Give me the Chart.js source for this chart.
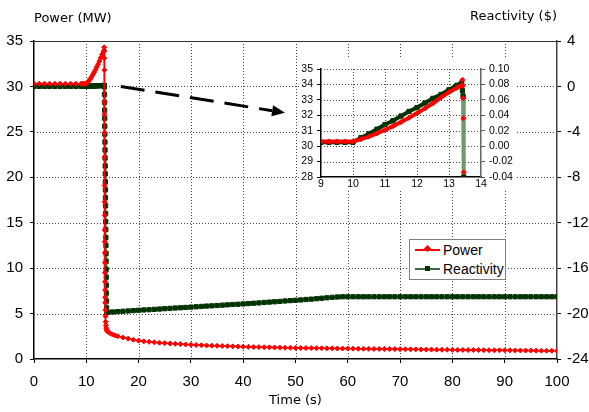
<!DOCTYPE html>
<html>
<head>
<meta charset="utf-8">
<script src="https://cdn.jsdelivr.net/npm/chart.js@4/dist/chart.umd.min.js"></script>
<style>
  html, body { margin:0; padding:0; background:#fff; }
  #wrap { position:relative; width:589px; height:412px; overflow:hidden; }
  #main { position:absolute; left:0; top:0; }
  #inset { position:absolute; left:299px; top:57px; background:#fff; }
  #legend { position:absolute; left:409px; top:239px; width:97px; height:41px; box-sizing:border-box;
            border:1px solid #808080; background:#fff; font:14px "Liberation Sans", Arial, sans-serif; color:#000; }
  #legend .row { height:19.5px; display:flex; align-items:center; white-space:nowrap; }
  #legend .sw { position:relative; display:inline-block; width:25px; height:0; border-top:2px solid; margin-left:5px; margin-right:3px; }
  #legend .mk { position:absolute; }
  #legend .mk.rectRot { width:5px; height:5px; left:10px; top:-4.5px; transform:rotate(45deg); }
  #legend .mk.rect { width:5px; height:5px; left:10px; top:-4.5px; }
</style>
</head>
<body>
<div id="wrap">
  <canvas id="main" width="589" height="412"></canvas>
  <canvas id="inset" width="218" height="134"></canvas>
  <div id="legend"></div>
</div>
<script>
// ---------------- data ----------------
const powerTime = [0,1,2,3,4,5,6,7,8,9,9.25,9.5,9.75,10,10.25,10.5,10.75,11,11.25,11.5,11.75,12,12.25,12.5,12.75,13,13.25,13.4,
  13.42,13.43,13.44,13.45,13.46,13.47,13.48,13.49,13.5,13.51,13.52,13.53,13.54,13.55,13.56,13.57,13.58,13.59,13.6,13.62,13.64,13.67,13.7,13.75,13.8,13.9,
  14,14.5,15,15.5,16,17,18,19,20,
  21,22,23,24,25,26,27,28,29,30,31,32,33,34,35,36,37,38,39,40,
  41,42,43,44,45,46,47,48,49,50,51,52,53,54,55,56,57,58,59,60,
  61,62,63,64,65,66,67,68,69,70,71,72,73,74,75,76,77,78,79,80,
  81,82,83,84,85,86,87,88,89,90,91,92,93,94,95,96,97,98,99,100];
const powerMW = [30.3,30.3,30.3,30.3,30.3,30.3,30.3,30.3,30.3,30.3,30.3,30.3,30.3,30.3,
  30.45,30.62,30.83,31.05,31.3,31.56,31.84,32.13,32.45,32.78,33.15,33.5,33.78,33.95,
  34.3,33.9,33.1,31.8,28.3,26.9,24.9,22.2,19.1,17.3,15.8,14.2,12.9,11.7,10.6,9.5,8.5,7.6,6.8,6.2,5.4,4.7,4.1,3.7,3.4,3.2,
  3.05,2.85,2.7,2.6,2.5,2.36,2.24,2.12,2.02,
  1.94,1.89,1.84,1.79,1.75,1.71,1.67,1.64,1.60,1.57,1.54,1.52,1.49,1.47,1.45,1.43,1.41,1.39,1.37,1.36,
  1.34,1.32,1.31,1.29,1.28,1.27,1.26,1.24,1.23,1.22,1.21,1.20,1.20,1.19,1.18,1.17,1.17,1.16,1.15,1.15,
  1.14,1.13,1.13,1.12,1.11,1.11,1.10,1.09,1.09,1.08,1.07,1.06,1.06,1.05,1.04,1.04,1.03,1.02,1.02,1.01,
  1.00,1.00,0.99,0.99,0.98,0.97,0.97,0.96,0.96,0.95,0.95,0.94,0.94,0.93,0.93,0.92,0.92,0.91,0.91,0.90];

const reactTime = [0,1,2,3,4,5,6,7,8,9,9.25,9.5,9.75,10,10.25,10.5,10.75,11,11.25,11.5,11.75,12,12.25,12.5,12.75,13,13.25,13.4,
  13.42,13.44,
  13.46,13.475,13.49,13.505,13.52,13.535,13.55,13.565,13.58,13.595,13.61,13.625,13.64,13.655,13.67,13.685,13.7,13.715,13.73,13.745,
  13.76,13.775,13.79,13.805,13.82,13.835,13.85,13.865,13.88,13.9,
  14,15,16,17,18,19,20,21,22,23,24,25,26,27,28,29,30,31,32,33,34,35,36,37,38,39,40,
  41,42,43,44,45,46,47,48,49,50,51,52,53,54,55,56,57,58,59,60,
  61,62,63,64,65,66,67,68,69,70,71,72,73,74,75,76,77,78,79,80,
  81,82,83,84,85,86,87,88,89,90,91,92,93,94,95,96,97,98,99,100];
const reactDollar = [0.005,0.005,0.005,0.005,0.005,0.005,0.005,0.005,0.005,0.005,0.005,0.005,0.005,0.005,
  0.011,0.016,0.022,0.028,0.033,0.039,0.045,0.050,0.056,0.062,0.067,0.073,0.079,0.082,
  0.072,0.065,
  -0.04,-0.7,-1.4,-2.1,-2.8,-3.5,-4.2,-4.9,-5.6,-6.3,-7.0,-7.7,-8.4,-9.1,-9.8,-10.5,-11.2,-11.9,-12.6,-13.3,
  -14.0,-14.7,-15.4,-16.1,-16.8,-17.5,-18.2,-18.9,-19.5,-19.9,
  -19.88,-19.86,-19.83,-19.80,-19.77,-19.74,-19.71,-19.68,-19.66,-19.63,-19.60,-19.57,-19.54,-19.51,-19.49,-19.46,-19.43,
  -19.40,-19.37,-19.34,-19.32,-19.29,-19.26,-19.23,-19.20,-19.18,-19.15,
  -19.12,-19.09,-19.06,-19.02,-18.99,-18.96,-18.93,-18.89,-18.86,-18.83,-18.80,-18.76,-18.73,-18.69,-18.65,-18.61,-18.57,-18.54,-18.52,-18.52,
  -18.52,-18.52,-18.52,-18.52,-18.52,-18.52,-18.52,-18.52,-18.52,-18.52,-18.52,-18.52,-18.52,-18.52,-18.52,-18.52,-18.52,-18.52,-18.52,-18.52,
  -18.52,-18.52,-18.52,-18.52,-18.52,-18.52,-18.52,-18.52,-18.52,-18.52,-18.52,-18.52,-18.52,-18.52,-18.52,-18.52,-18.52,-18.52,-18.52,-18.52];

const seriesNames = ['Power', 'Reactivity'];
const axisTitles = { power:'Power (MW)', react:'Reactivity ($)', time:'Time (s)' };

// ---------------- helpers ----------------
const pts = (xs, ys) => xs.map((x, i) => ({x, y: ys[i]}));
const tickFont = {family:'"Liberation Sans", Arial, sans-serif', size:15};
const titleFont = {family:'"DejaVu Sans", Verdana, sans-serif', size:13};
const insetFont = {family:'"Liberation Sans", Arial, sans-serif', size:10.5};
const RED = '#ff0000', GREEN_LINE = '#3a6b3a', GREEN_MK = '#003300';

// dotted grid lines placed at each scale tick (library scales give the pixels)
const dottedGrid = {
  id:'dottedGrid',
  beforeDatasetsDraw(chart, args, opts) {
    const {ctx, chartArea:a} = chart;
    ctx.save();
    ctx.strokeStyle = opts.color || '#444';
    ctx.lineWidth = 1;
    ctx.setLineDash(opts.dash || [1, 2]);
    (opts.axes || []).forEach(id => {
      const s = chart.scales[id];
      s.ticks.forEach(t => {
        const v = s.getPixelForValue(t.value);
        const p = Math.round(v) + 0.5;
        ctx.beginPath();
        if (s.isHorizontal()) {
          if (Math.abs(v - a.left) < 1.5 || Math.abs(v - a.right) < 1.5) return;
          ctx.moveTo(p, a.top); ctx.lineTo(p, a.bottom);
        } else {
          if (Math.abs(v - a.bottom) < 1.5 || (opts.skipTop && Math.abs(v - a.top) < 1.5)) return;
          ctx.moveTo(a.left, p); ctx.lineTo(a.right, p);
        }
        ctx.stroke();
      });
    });
    ctx.restore();
  }
};

const htmlLegend = {
  id:'htmlLegend',
  afterUpdate(chart) {
    const box = document.getElementById('legend');
    box.innerHTML = '';
    chart.data.datasets.forEach(ds => {
      const row = document.createElement('div'); row.className = 'row';
      const sw = document.createElement('span'); sw.className = 'sw';
      sw.style.borderTopColor = ds.borderColor;
      const mk = document.createElement('span'); mk.className = 'mk ' + ds.pointStyle;
      mk.style.background = ds.pointBackgroundColor;
      sw.appendChild(mk);
      const tx = document.createElement('span'); tx.textContent = ds.label;
      row.appendChild(sw); row.appendChild(tx);
      box.appendChild(row);
    });
  }
};

const arrowPlugin = {
  id:'arrow',
  afterDatasetsDraw(chart, args, opts) {
    const {ctx, scales} = chart;
    const x1 = scales.x.getPixelForValue(opts.from.x), y1 = scales.y.getPixelForValue(opts.from.y);
    const x2 = scales.x.getPixelForValue(opts.to.x), y2 = scales.y.getPixelForValue(opts.to.y);
    const a = Math.atan2(y2 - y1, x2 - x1);
    const head = 13, hw = 5.5;
    const bx = x2 - head * Math.cos(a), by = y2 - head * Math.sin(a);
    ctx.save();
    ctx.strokeStyle = '#000'; ctx.fillStyle = '#000'; ctx.lineWidth = 3;
    ctx.setLineDash([24, 11]);
    ctx.beginPath(); ctx.moveTo(x1, y1); ctx.lineTo(bx, by); ctx.stroke();
    ctx.setLineDash([]);
    ctx.beginPath();
    ctx.moveTo(x2, y2);
    ctx.lineTo(bx - hw * Math.sin(a), by + hw * Math.cos(a));
    ctx.lineTo(bx + hw * Math.sin(a), by - hw * Math.cos(a));
    ctx.closePath(); ctx.fill();
    ctx.restore();
  }
};

const axisGrid = { drawOnChartArea:false, tickColor:'#000', tickLength:4 };

// ---------------- main chart ----------------
new Chart(document.getElementById('main'), {
  type:'line',
  data:{ datasets:[
    { label:seriesNames[0], data:pts(powerTime, powerMW), yAxisID:'y',
      borderColor:RED, backgroundColor:RED, borderWidth:1.5, tension:0,
      pointStyle:'rectRot', pointRadius:2.5, pointBorderWidth:1,
      pointBackgroundColor:RED, pointBorderColor:RED },
    { label:seriesNames[1], data:pts(reactTime, reactDollar), yAxisID:'y2',
      borderColor:GREEN_LINE, backgroundColor:GREEN_MK, borderWidth:2, tension:0,
      pointStyle:'rect', pointRadius:3, pointBorderWidth:1,
      pointBackgroundColor:GREEN_MK, pointBorderColor:GREEN_MK }
  ]},
  options:{
    responsive:false, animation:false, devicePixelRatio:1,
    layout:{ padding:0 },
    plugins:{ legend:{display:false}, tooltip:{enabled:false},
      dottedGrid:{ axes:['x','y'], color:'#444', dash:[1,2], skipTop:true },
      arrow:{ from:{x:16.6, y:30.0}, to:{x:48.0, y:27.1} } },
    scales:{
      x:{ type:'linear', position:'bottom', min:0, max:100,
          ticks:{ stepSize:10, color:'#000', font:tickFont, padding:10, maxRotation:0, autoSkip:false },
          grid:axisGrid,
          border:{ color:'#000', width:1.5 },
          title:{ display:true, text:axisTitles.time, color:'#000', font:titleFont, padding:{top:0, bottom:4} },
          afterFit(s){ s.height = 53; } },
      y:{ type:'linear', position:'left', min:0, max:35,
          ticks:{ stepSize:5, color:'#000', font:tickFont, padding:7, autoSkip:false },
          grid:axisGrid,
          border:{ color:'#000', width:1.5 },
          afterFit(s){ s.width = 34; } },
      y2:{ type:'linear', position:'right', min:-24, max:4,
          ticks:{ stepSize:4, color:'#000', font:tickFont, padding:6, autoSkip:false },
          grid:axisGrid,
          border:{ color:'#444', width:1.5 },
          afterFit(s){ s.width = 32; } },
      tP:{ type:'linear', position:'top', weight:0, min:0, max:1,
          ticks:{ display:false }, grid:{ display:false, drawTicks:false },
          border:{ display:true, color:'#333', width:1 },
          title:{ display:true, text:axisTitles.power, align:'start', color:'#000', font:titleFont, padding:{top:11, bottom:0} },
          afterFit(s){ s.height = 41; } },
      tR:{ type:'linear', position:'top', weight:1, min:0, max:1,
          ticks:{ display:false }, grid:{ display:false, drawTicks:false },
          border:{ display:false },
          title:{ display:true, text:axisTitles.react, align:'end', color:'#000', font:titleFont, padding:{top:9, bottom:0} },
          afterFit(s){ s.height = 0; } }
    }
  },
  plugins:[dottedGrid, htmlLegend, arrowPlugin]
});

// ---------------- inset chart (same data, zoomed) ----------------
new Chart(document.getElementById('inset'), {
  type:'line',
  data:{ datasets:[
    { label:seriesNames[0], data:pts(powerTime, powerMW), yAxisID:'y',
      borderColor:RED, borderWidth:4, tension:0,
      segment:{ borderColor: c => c.p0.parsed.x >= 13.4 ? 'rgba(255,0,0,0)' : undefined },
      pointStyle:'rectRot', pointRadius:2.5, pointBorderWidth:1,
      pointBackgroundColor:RED, pointBorderColor:RED },
    { label:seriesNames[1], data:pts(reactTime, reactDollar), yAxisID:'y2',
      borderColor:GREEN_MK, borderWidth:4, tension:0,
      segment:{ borderColor: c => c.p0.parsed.x >= 13.4 ? '#6f9a6f' : undefined },
      pointStyle:'rect', pointRadius:3, pointBorderWidth:1,
      pointBackgroundColor:GREEN_MK, pointBorderColor:GREEN_MK }
  ]},
  options:{
    responsive:false, animation:false, devicePixelRatio:1,
    layout:{ padding:{ top:12, left:0, right:0, bottom:0 } },
    plugins:{ legend:{display:false}, tooltip:{enabled:false},
      dottedGrid:{ axes:['x','y'], color:'#444', dash:[1,2], skipTop:false } },
    scales:{
      x:{ type:'linear', min:9, max:14,
          ticks:{ stepSize:1, color:'#000', font:insetFont, padding:1, maxRotation:0, autoSkip:false },
          grid:{ drawOnChartArea:false, drawTicks:false },
          border:{ color:'#000', width:1.5 },
          afterFit(s){ s.height = 14; } },
      y:{ type:'linear', position:'left', min:28, max:35,
          ticks:{ stepSize:1, color:'#000', font:insetFont, padding:4, autoSkip:false },
          grid:axisGrid,
          border:{ color:'#000', width:1.5 },
          afterFit(s){ s.width = 22; } },
      y2:{ type:'linear', position:'right', min:-0.04, max:0.10,
          ticks:{ stepSize:0.02, color:'#000', font:insetFont, padding:4, autoSkip:false,
                  callback: v => (Math.abs(v) < 1e-9 ? 0 : v).toFixed(2) },
          grid:{ drawOnChartArea:false, tickColor:'#555', tickLength:4 },
          border:{ color:'#666', width:1.5 },
          afterFit(s){ s.width = 36; } }
    }
  },
  plugins:[dottedGrid]
});
</script>
</body>
</html>
